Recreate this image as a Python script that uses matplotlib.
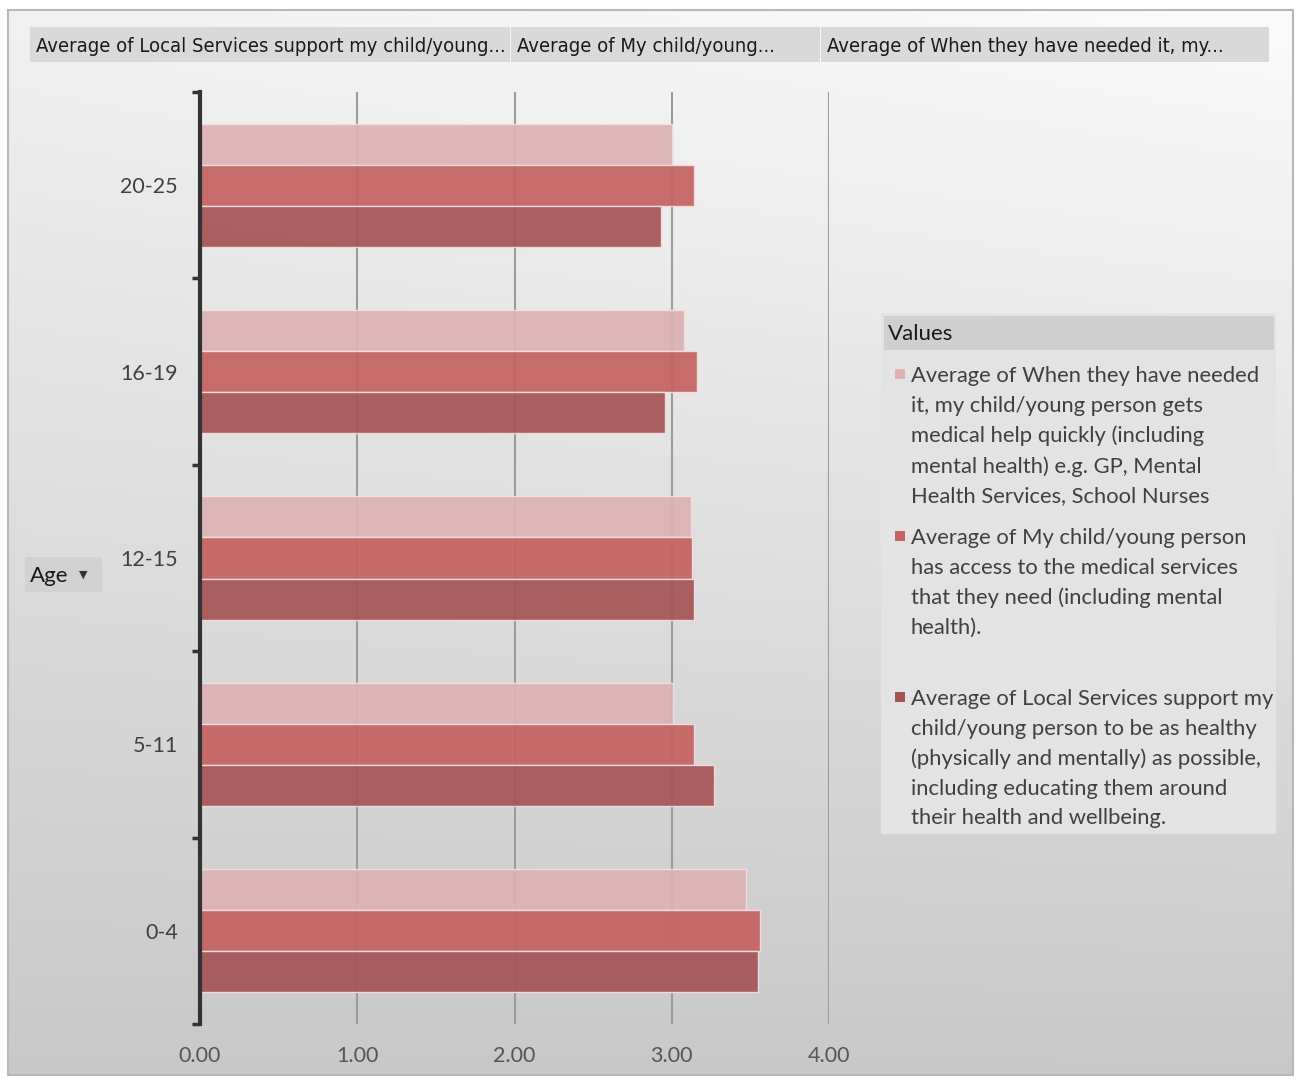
import numpy as np
import matplotlib
matplotlib.use("Agg")
import matplotlib.pyplot as plt
from matplotlib.patches import Rectangle

plt.rcParams['font.family'] = ['Lato', 'DejaVu Sans']

# Pivot chart data: average score per age band
ages = ["0-4", "5-11", "12-15", "16-19", "20-25"]
quick_help = [3.47, 3.01, 3.12, 3.08, 3.00]       # When they have needed it...
access = [3.56, 3.14, 3.13, 3.16, 3.14]           # My child/young person has access...
local_support = [3.55, 3.27, 3.14, 2.96, 2.93]    # Local Services support...

series_labels = [
    "Average of When they have needed\nit, my child/young person gets\nmedical help quickly (including\nmental health) e.g. GP, Mental\nHealth Services, School Nurses",
    "Average of My child/young person\nhas access to the medical services\nthat they need (including mental\nhealth).",
    "Average of Local Services support my\nchild/young person to be as healthy\n(physically and mentally) as possible,\nincluding educating them around\ntheir health and wellbeing.",
]
header_labels = [
    "Average of Local Services support my child/young...",
    "Average of My child/young...",
    "Average of When they have needed it, my...",
]
x_ticks = [0, 1, 2, 3, 4]

colors = ["#dcb3b3", "#c46362", "#a55455"]

W, H = 1301, 1079
fig = plt.figure(figsize=(W / 100, H / 100), dpi=100)

# full-figure layer in pixel coordinates for background and pivot buttons
bg = fig.add_axes([0, 0, 1, 1], zorder=0)
bg.set_xlim(0, W)
bg.set_ylim(H, 0)
bg.axis("off")

yy, xx = np.mgrid[0:H, 0:W]
shade = 0.985 - 0.20 * (yy / H) - 0.04 * (1 - xx / W) * (1 - yy / H)
bg.imshow(np.dstack([shade] * 3), extent=(8, 1293, 1075, 10), aspect="auto", zorder=0)
bg.add_patch(Rectangle((8, 10), 1285, 1065, fill=False, edgecolor="#b8b8b8", lw=1.5, zorder=1))

# field buttons along the top
hdr_x = [30, 511, 821, 1270]
for i, lab in enumerate(header_labels):
    bg.add_patch(Rectangle((hdr_x[i], 27), hdr_x[i + 1] - hdr_x[i] - 1, 35,
                           facecolor="#d9d9d9", edgecolor="none", zorder=2))
    bg.text(hdr_x[i] + 6, 46, lab, fontsize=14.5, color="#1a1a1a", va="center", ha="left",
            family=["Liberation Sans Narrow", "DejaVu Sans"], fontstretch="condensed", zorder=3)

# axis field button
bg.add_patch(Rectangle((25, 557), 77, 35, facecolor="#d2d2d2", edgecolor="none", zorder=2))
bg.text(30, 576, "Age", fontsize=16, color="#1a1a1a", va="center", ha="left", zorder=3)
bg.text(79, 575, "\u25BC", fontsize=8, color="#333333", va="center", ha="left",
        family="DejaVu Sans", zorder=3)

# legend panel
bg.add_patch(Rectangle((881, 313), 395, 521, facecolor="#e3e3e3", edgecolor="none", zorder=2))
bg.add_patch(Rectangle((884, 316), 390, 34, facecolor="#cfcfcf", edgecolor="none", zorder=3))
bg.text(888, 334, "Values", fontsize=16, color="#1a1a1a", va="center", ha="left", zorder=4)
leg_y = [374, 536, 697]
for lab, col, y in zip(series_labels, colors, leg_y):
    bg.add_patch(Rectangle((895, y - 5), 10, 10, facecolor=col, edgecolor="none", zorder=4))
    bg.text(911, y - 8, lab, fontsize=15.8, color="#404040", va="top", ha="left",
            linespacing=1.6, zorder=4)

# main bar chart
ax = fig.add_axes([200 / W, 1 - 1024 / H, (829 - 200) / W, (1024 - 92) / H], zorder=2)
ax.patch.set_alpha(0)
y = np.arange(len(ages))
h = 0.22
bar_kw = dict(height=h, edgecolor="#f6dede", linewidth=1.0, alpha=0.93, zorder=3)
ax.barh(y + h, quick_help, color=colors[0], **bar_kw)
ax.barh(y, access, color=colors[1], **bar_kw)
ax.barh(y - h, local_support, color=colors[2], **bar_kw)

ax.set_xlim(0, 4)
ax.set_ylim(-0.5, len(ages) - 0.5)
ax.set_xticks(x_ticks)
ax.set_xticklabels([f"{v:.2f}" for v in x_ticks], fontsize=15.5, color="#555555")
ax.tick_params(axis="x", length=0, pad=16)
ax.set_yticks(y)
ax.set_yticklabels(ages, fontsize=15.5, color="#404040")
ax.tick_params(axis="y", which="major", length=0, pad=16)
ax.set_yticks(np.arange(-0.5, len(ages)), minor=True)
ax.tick_params(axis="y", which="minor", length=6, width=2.5, color="#333333", direction="out")
ax.grid(axis="x", color="#9c9c9c", linewidth=1.5, zorder=1)
for s in ["top", "right", "bottom"]:
    ax.spines[s].set_visible(False)
ax.spines["left"].set_color("#333333")
ax.spines["left"].set_linewidth(3)
ax.spines["left"].set_zorder(4)

fig.savefig("out.png", dpi=100)
